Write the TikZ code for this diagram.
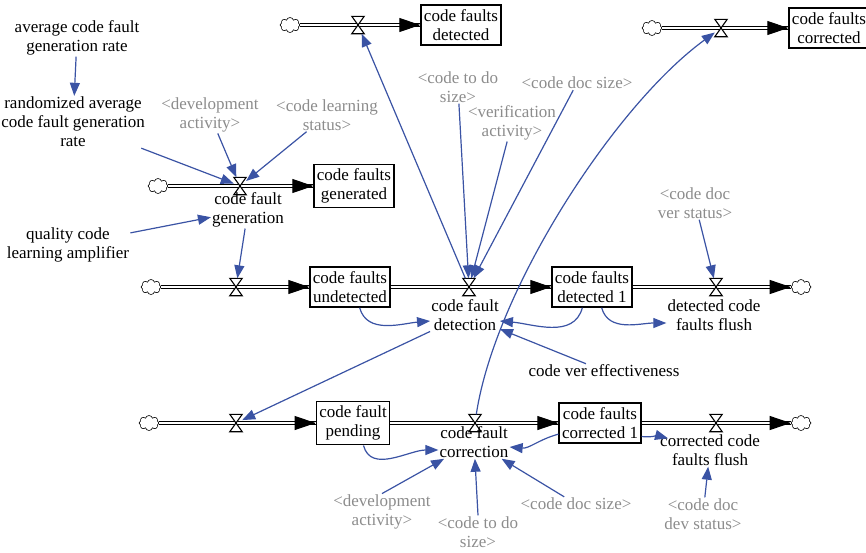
\documentclass[tikz,border=0pt]{standalone}
\usepackage{fontspec}
\setmainfont{Liberation Serif}
\usepackage{tikz}
\usetikzlibrary{arrows.meta, shapes.symbols, positioning}

\definecolor{linkblue}{HTML}{3A53A4}
\definecolor{shadowgray}{HTML}{8C8C8C}

\begin{document}
\begin{tikzpicture}[x=1pt, y=-1pt, font=\fontsize{17}{19}\selectfont,
    every node/.style={align=center, inner sep=1pt},
    stock/.style={draw, line width=1.3pt, inner xsep=3pt, inner ysep=4.5pt},
    cloudy/.style={cloud, draw, cloud puffs=8, cloud ignores aspect, minimum width=20pt, minimum height=15pt, inner sep=0pt, line width=0.6pt},
    valve/.style={minimum width=12pt, minimum height=17pt, inner sep=0pt},
    hourglass/.style={draw, fill=white, line width=1.1pt, line join=miter},
    pipe/.style={double, double distance=2.4pt, line width=1.2pt},
    pipetip/.style={-{Triangle[length=21pt, width=14pt]}, line width=1pt},
    shadow/.style={text=shadowgray},
    link/.style={-{Triangle[length=13pt, width=10pt]}, color=linkblue, line width=1.2pt}]

    \useasboundingbox (0,0) rectangle (866,552);

    \node[stock] (cfdet)  at (461,25)  {code faults\\detected};
    \node[stock] (cfcor)  at (829,28)  {code faults\\corrected};
    \node[stock] (cfgen)  at (354,186) {code faults\\generated};
    \node[stock] (cfund)  at (350,287) {code faults\\undetected};
    \node[stock] (cfdet1) at (592,287) {code faults\\detected 1};
    \node[stock] (cfpend) at (353,423) {code fault\\pending};
    \node[stock] (cfcor1) at (600,423) {code faults\\corrected 1};

    \node[cloudy] (src1)  at (290,25)  {};
    \node[cloudy] (src2)  at (652,28)  {};
    \node[cloudy] (src3)  at (158,186) {};
    \node[cloudy] (src4)  at (151,287) {};
    \node[cloudy] (sink1) at (801,287) {};
    \node[cloudy] (src5)  at (149,423) {};
    \node[cloudy] (sink2) at (801,423) {};

    \foreach \a/\b in {src1/cfdet, src2/cfcor, src3/cfgen, src4/cfund, cfund/cfdet1,
                       cfdet1/sink1, src5/cfpend, cfpend/cfcor1, cfcor1/sink2}
        \draw[pipe] (\a) -- (\b);

    \node[valve] (vdet0)   at (358,25)  {};
    \node[valve] (vcor0)   at (721,28)  {};
    \node[valve] (vgen)    at (240,186) {};
    \node[valve] (vund)    at (236,287) {};
    \node[valve] (vdet)    at (469,287) {};
    \node[valve] (vflush1) at (716,287) {};
    \node[valve] (vpend)   at (236,423) {};
    \node[valve] (vcorr)   at (475,423) {};
    \node[valve] (vflush2) at (716,423) {};

    \foreach \v in {vdet0, vcor0, vgen, vund, vdet, vflush1, vpend, vcorr, vflush2}
        \draw[hourglass] (\v.north west) -- (\v.north east) -- (\v.south west) -- (\v.south east) -- cycle;

    \foreach \b in {cfdet, cfcor, cfgen, cfund, cfdet1, sink1, cfpend, cfcor1, sink2}
        \draw[pipetip] ([xshift=-1pt]\b.west) -- (\b.west);

    \node (lgen)    at (248,210) {code fault\\generation};
    \node (ldet)    at (465,315) {code fault\\detection};
    \node (lflush1) at (714,315) {detected code\\faults flush};
    \node (lcorr)   at (474,442) {code fault\\correction};
    \node (lflush2) at (710,450) {corrected code\\faults flush};

    \node (avg)  at (77,38)   {average code fault\\generation rate};
    \node (rand) at (73,122)  {randomized average\\code fault generation\\rate};
    \node (qual) at (68,245)  {quality code\\learning amplifier};
    \node (vereff) at (604,371) {code ver effectiveness};

    \node[shadow] (dev1)     at (210,115) {<development\\activity>};
    \node[shadow] (learn)    at (327,115) {<code learning\\status>};
    \node[shadow] (todo1)    at (458,87)  {<code to do\\size>};
    \node[shadow] (docsize1) at (577,83)  {<code doc size>};
    \node[shadow] (verif)    at (512,123) {<verification\\activity>};
    \node[shadow] (docver)   at (695,203) {<code doc\\ver status>};
    \node[shadow] (dev2)     at (382,512) {<development\\activity>};
    \node[shadow] (todo2)    at (478,532) {<code to do\\size>};
    \node[shadow] (docsize2) at (576,504) {<code doc size>};
    \node[shadow] (docdev)   at (703,514) {<code doc\\dev status>};

    \path[link]
        (avg) edge (rand)
        (rand) edge (vgen)
        (dev1) edge (vgen)
        (learn) edge (vgen)
        (qual) edge (lgen)
        (lgen) edge (vund)
        (vdet) edge (vdet0)
        (todo1) edge (vdet)
        (verif) edge (vdet)
        (docsize1) edge (vdet)
        (cfund.-65) edge[out=-75, in=185] ([yshift=-6pt]ldet.west)
        (cfdet1.-115) edge[out=-105, in=-5] ([yshift=-6pt]ldet.east)
        (vereff) edge (ldet)
        (cfdet1.-65) edge[out=-75, in=180] ([yshift=-8pt]lflush1.west)
        (docver) edge (vflush1)
        (ldet) edge (vpend)
        (cfpend.-65) edge[out=-75, in=180] ([yshift=-8pt]lcorr.west)
        (cfcor1.-165) edge[out=195, in=-5] ([yshift=-5pt]lcorr.east)
        (cfcor1.-18) edge[out=-5, in=165] ([xshift=9pt, yshift=-5pt]lflush2.north west)
        (dev2.north) edge (lcorr)
        (todo2.north) edge (lcorr)
        (docsize2) edge (lcorr)
        (docdev) edge (lflush2);
    \draw[link] (vcorr) .. controls (495,290) and (615,105) .. (vcor0);
\end{tikzpicture}
\end{document}
